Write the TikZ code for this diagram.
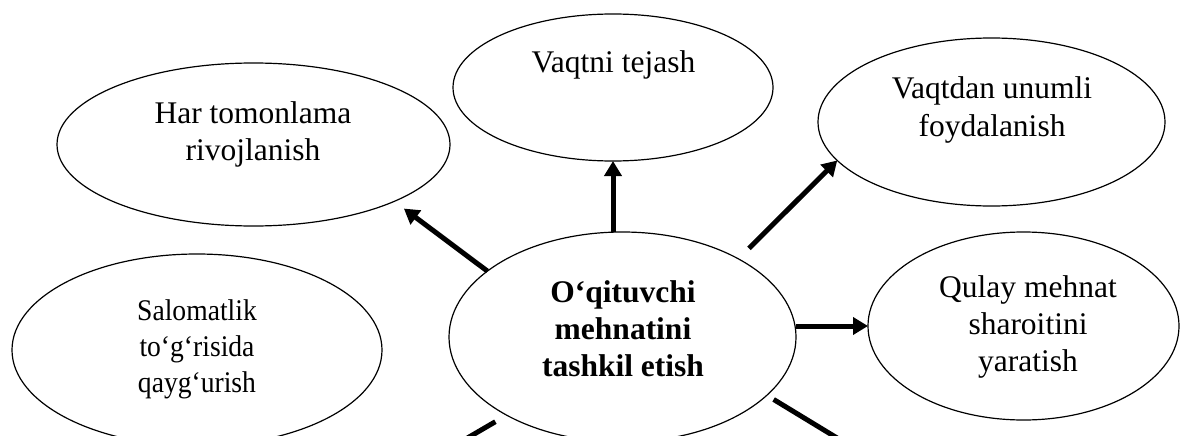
\documentclass[tikz,border=0pt]{standalone}
\usepackage{fontspec}
\setmainfont{Liberation Serif}
\newfontfamily\condserif[FakeStretch=0.92]{Liberation Serif}
\usetikzlibrary{arrows.meta,shapes.geometric}
\newcommand\mlines[1]{\begin{tabular}[t]{@{}c@{}}#1\end{tabular}}
\begin{document}
\begin{tikzpicture}[x=1pt,y=-1pt,
  bubble/.style={draw, ellipse, line width=1.2pt, inner sep=0pt, outer sep=0pt},
  lbl/.style={anchor=base, inner sep=0pt, font=\fontsize{31.5}{37}\selectfont},
  smalllbl/.style={anchor=base, inner sep=0pt, font=\condserif\fontsize{30}{36}\selectfont},
  arr/.style={line width=5pt, -{Triangle[length=15pt,width=17pt]}},
  link/.style={line width=5pt}]
\useasboundingbox (0,0) rectangle (1180,436);
\clip (0,0) rectangle (1180,436);
% ellipses
\node[bubble, minimum width=320pt, minimum height=147pt] (top) at (613,87.5) {};
\node[bubble, minimum width=393pt, minimum height=163pt] (ul) at (253.5,144.5) {};
\node[bubble, minimum width=347pt, minimum height=168pt] (ur) at (991.5,122) {};
\node[bubble, minimum width=311pt, minimum height=188pt] (rt) at (1023.5,326) {};
\node[bubble, minimum width=347pt, minimum height=210pt] (cen) at (622.5,337) {};
\node[bubble, minimum width=370pt, minimum height=192pt] (ll) at (197,350) {};
% texts
\node[lbl] (ttop) at (613.5,73) {Vaqtni tejash};
\node[lbl] (tul) at (253,123) {\mlines{Har tomonlama\\rivojlanish}};
\node[lbl] (tur) at (992,99) {\mlines{Vaqtdan unumli\\foydalanish}};
\node[lbl] (trt) at (1028,297) {\mlines{Qulay mehnat\\sharoitini\\yaratish}};
\node[lbl, font=\fontsize{31.5}{37}\selectfont\bfseries] (tcen) at (623,302) {\mlines{O‘qituvchi\\mehnatini\\tashkil etish}};
\node[smalllbl] (tll) at (197,320) {\mlines{Salomatlik\\to‘g‘risida\\qayg‘urish}};
% off-picture ends
\coordinate (offl) at (440,454);
\coordinate (offr) at (870,458);
% connectors
\draw[arr] (top.south |- cen.north) -- (top.south);
\draw[arr, shorten >=12pt] (cen.154) -- (ul.-22);
\draw[arr, shorten <=15pt] (cen.34) -- (ur.194);
\draw[arr] (cen.east |- rt.west) -- (rt.west);
\draw[link, shorten <=13pt] (cen.214) -- (offl);
\draw[link, shorten <=8pt] (cen.-22) -- (offr);
\end{tikzpicture}
\end{document}
